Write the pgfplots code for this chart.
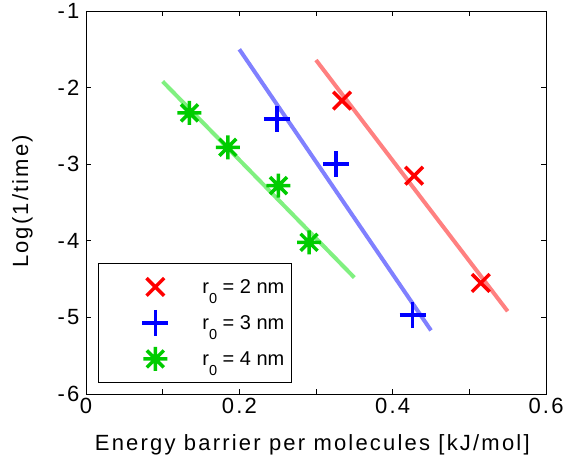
\documentclass[border=0pt]{standalone}
\usepackage{pgfplots}
\pgfplotsset{compat=1.18}
\usepackage{fontspec}
\setmainfont{Liberation Sans}[LetterSpace=10]
\newfontfamily\legendfont{Liberation Sans}

\definecolor{mred}{RGB}{255,0,0}
\definecolor{mblue}{RGB}{0,0,255}
\definecolor{mgreen}{RGB}{0,204,0}
\definecolor{lred}{RGB}{255,128,128}
\definecolor{lblue}{RGB}{128,128,255}
\definecolor{lgreen}{RGB}{128,240,128}

% eight-armed asterisk: a plus and a cross on top of each other
\pgfdeclareplotmark{mstar}{%
  \pgfpathmoveto{\pgfqpoint{0pt}{\pgfplotmarksize}}%
  \pgfpathlineto{\pgfqpoint{0pt}{-\pgfplotmarksize}}%
  \pgfpathmoveto{\pgfqpoint{\pgfplotmarksize}{0pt}}%
  \pgfpathlineto{\pgfqpoint{-\pgfplotmarksize}{0pt}}%
  \pgfpathmoveto{\pgfqpoint{.7071\pgfplotmarksize}{.7071\pgfplotmarksize}}%
  \pgfpathlineto{\pgfqpoint{-.7071\pgfplotmarksize}{-.7071\pgfplotmarksize}}%
  \pgfpathmoveto{\pgfqpoint{-.7071\pgfplotmarksize}{.7071\pgfplotmarksize}}%
  \pgfpathlineto{\pgfqpoint{.7071\pgfplotmarksize}{-.7071\pgfplotmarksize}}%
  \pgfusepathqstroke}

\newcommand{\rsub}[1]{r\raisebox{-10pt}{\fontsize{14.5}{15}\selectfont 0} = #1 nm}

\begin{document}
\begin{tikzpicture}
\useasboundingbox (0,0) rectangle (566pt,473pt);
\begin{axis}[
  at={(86pt,79pt)}, anchor=south west,
  scale only axis, width=460pt, height=383pt,
  xmin=0, xmax=0.6, ymin=-6, ymax=-1,
  xtick={0,0.1,0.2,0.3,0.4,0.5,0.6},
  xticklabels={0,,0.2,,0.4,,0.6},
  ytick={-6,-5,-4,-3,-2,-1},
  yticklabels={-6,-5,-4,-3,-2,-1},
  tick align=inside,
  major tick length=5pt,
  axis line style={line width=0.9pt},
  every tick/.style={black, line width=0.9pt},
  tick label style={font=\fontsize{22}{26}\selectfont},
  yticklabel style={xshift=-3pt},
  xticklabel style={yshift=-1pt},
  label style={font=\fontsize{22}{26}\selectfont},
  xlabel={Energy barrier per molecules [kJ/mol]},
  ylabel={Log(1/time)},
  xlabel style={at={(axis description cs:0.492,-0.148)}, anchor=base},
  ylabel style={at={(axis description cs:-0.138,0.503)}, anchor=center},
  legend cell align=left,
  legend image code/.code={%
    \path[draw=none, fill=none] (-52pt,-14pt) rectangle (45pt,14pt);
    \draw[#1] plot coordinates {(0pt,0pt)};},
  legend style={
    at={(axis description cs:0.026,0.342)}, anchor=north west,
    draw=black, line width=0.8pt,
    inner xsep=5pt, inner ysep=9.5pt, row sep=8pt,
    font=\legendfont\fontsize{20}{24}\selectfont,
  },
]
% fitted trend lines
\addplot[lred, line width=4pt, forget plot] coordinates {(0.30,-1.64) (0.55,-4.92)};
\addplot[lblue, line width=4pt, forget plot] coordinates {(0.20,-1.50) (0.45,-5.17)};
\addplot[lgreen, line width=4pt, forget plot] coordinates {(0.10,-1.92) (0.35,-4.48)};

% measured points
\addplot[only marks, mark=x, mark size=12.5pt, mred, line width=3.5pt]
  coordinates {(0.334,-2.17) (0.428,-3.15) (0.515,-4.55)};
\addlegendentry{\rsub{2}}
\addplot[only marks, mark=+, mark size=13pt, mblue, line width=3.5pt]
  coordinates {(0.249,-2.41) (0.326,-3.00) (0.426,-4.97)};
\addlegendentry{\rsub{3}}
\addplot[only marks, mark=mstar, mark size=12pt, mgreen, line width=3.5pt]
  coordinates {(0.135,-2.33) (0.185,-2.78) (0.251,-3.28) (0.291,-4.02)};
\addlegendentry{\rsub{4}}
\end{axis}
\end{tikzpicture}
\end{document}
